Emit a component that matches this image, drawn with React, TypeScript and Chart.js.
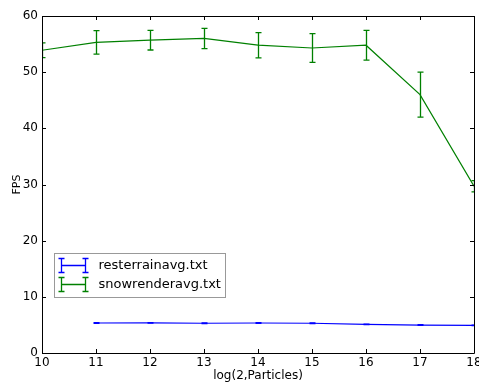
import { useEffect, useRef } from "react";
import { Chart, registerables } from "chart.js";

Chart.register(...registerables);

const particlesLog = [10, 11, 12, 13, 14, 15, 16, 17, 18];
const snowFps = [53.9, 55.3, 55.7, 56.0, 54.8, 54.3, 54.8, 46.0, 29.7];
const snowErr = [1.3, 2.1, 1.75, 1.8, 2.25, 2.55, 2.65, 4.0, 1.0];
const rainLog = [11, 12, 13, 14, 15, 16, 17, 18];
const rainFps = [5.34, 5.36, 5.3, 5.34, 5.3, 5.1, 4.98, 4.92];
const rainErr = [0.05, 0.05, 0.05, 0.05, 0.05, 0.05, 0.05, 0.05];
const xTicks = [10, 11, 12, 13, 14, 15, 16, 17, 18];
const yTicks = [0, 10, 20, 30, 40, 50, 60];
const seriesLabels = ["resterrainavg.txt", "snowrenderavg.txt"];
const FONT = "'DejaVu Sans', sans-serif";

const errorBarPlugin = {
  id: "errorBars",
  afterDatasetsDraw(chart: any) {
    const { ctx, chartArea } = chart;
    const xs = chart.scales.x;
    const ys = chart.scales.y;
    ctx.save();
    ctx.beginPath();
    ctx.rect(chartArea.left, chartArea.top, chartArea.right - chartArea.left, chartArea.bottom - chartArea.top);
    ctx.clip();
    chart.data.datasets.forEach((ds: any) => {
      if (!ds.errors) return;
      ctx.strokeStyle = ds.borderColor;
      ctx.lineWidth = 1.3;
      ds.data.forEach((p: any, i: number) => {
        const e = ds.errors[i];
        const px = Math.round(xs.getPixelForValue(p.x)) + 0.5;
        const y1 = ys.getPixelForValue(p.y + e);
        const y2 = ys.getPixelForValue(p.y - e);
        ctx.beginPath();
        ctx.moveTo(px, y1);
        ctx.lineTo(px, y2);
        ctx.moveTo(px - 3, y1);
        ctx.lineTo(px + 3, y1);
        ctx.moveTo(px - 3, y2);
        ctx.lineTo(px + 3, y2);
        ctx.stroke();
      });
    });
    ctx.restore();
  },
};

const framePlugin = {
  id: "frame",
  afterDraw(chart: any) {
    const { ctx, chartArea } = chart;
    const { left, right, top, bottom } = chartArea;
    const xs = chart.scales.x;
    const ys = chart.scales.y;
    ctx.save();
    ctx.strokeStyle = "#000";
    ctx.lineWidth = 1;
    ctx.beginPath();
    ctx.rect(Math.round(left) + 0.5, Math.round(top) + 0.5, Math.round(right - left), Math.round(bottom - top));
    ctx.stroke();
    ctx.beginPath();
    xTicks.forEach((v) => {
      const px = Math.round(xs.getPixelForValue(v)) + 0.5;
      ctx.moveTo(px, bottom);
      ctx.lineTo(px, bottom - 4);
      ctx.moveTo(px, top);
      ctx.lineTo(px, top + 4);
    });
    yTicks.forEach((v) => {
      const py = Math.round(ys.getPixelForValue(v)) + 0.5;
      ctx.moveTo(left, py);
      ctx.lineTo(left + 4, py);
      ctx.moveTo(right, py);
      ctx.lineTo(right - 4, py);
    });
    ctx.stroke();

    // legend
    const bx = Math.round(left) + 12.5;
    const by = Math.round(top) + 237.5;
    const bw = 171;
    const bh = 44;
    ctx.fillStyle = "#fff";
    ctx.fillRect(bx, by, bw, bh);
    ctx.strokeStyle = "#999";
    ctx.strokeRect(bx, by, bw, bh);
    chart.data.datasets.forEach((ds: any, i: number) => {
      const cy = Math.round(by + 11 + i * 19) + 0.5;
      const sx = bx + 7;
      const ex = bx + 31;
      ctx.strokeStyle = ds.borderColor;
      ctx.lineWidth = 1.3;
      ctx.beginPath();
      ctx.moveTo(sx, cy);
      ctx.lineTo(ex, cy);
      ctx.moveTo(sx, cy - 7);
      ctx.lineTo(sx, cy + 7);
      ctx.moveTo(ex, cy - 7);
      ctx.lineTo(ex, cy + 7);
      ctx.moveTo(sx - 3, cy - 7);
      ctx.lineTo(sx + 3, cy - 7);
      ctx.moveTo(sx - 3, cy + 7);
      ctx.lineTo(sx + 3, cy + 7);
      ctx.moveTo(ex - 3, cy - 7);
      ctx.lineTo(ex + 3, cy - 7);
      ctx.moveTo(ex - 3, cy + 7);
      ctx.lineTo(ex + 3, cy + 7);
      ctx.stroke();
      ctx.fillStyle = "#000";
      ctx.font = `13px ${FONT}`;
      ctx.textBaseline = "middle";
      ctx.textAlign = "left";
      ctx.fillText(ds.label, bx + 44, cy);
    });
    ctx.restore();
  },
};

export default function App() {
  const ref = useRef<HTMLCanvasElement | null>(null);
  useEffect(() => {
    if (!ref.current) return;
    Chart.defaults.font.family = FONT;
    Chart.defaults.color = "#000";
    const chart = new Chart(ref.current, {
      type: "line",
      data: {
        datasets: [
          {
            label: seriesLabels[0],
            data: rainLog.map((x, i) => ({ x, y: rainFps[i] })),
            errors: rainErr,
            borderColor: "#0000ff",
            backgroundColor: "#0000ff",
            borderWidth: 1.2,
            pointRadius: 0,
            tension: 0,
          } as any,
          {
            label: seriesLabels[1],
            data: particlesLog.map((x, i) => ({ x, y: snowFps[i] })),
            errors: snowErr,
            borderColor: "#008000",
            backgroundColor: "#008000",
            borderWidth: 1.2,
            pointRadius: 0,
            tension: 0,
          } as any,
        ],
      },
      options: {
        animation: false,
        responsive: false,
        maintainAspectRatio: false,
        layout: { padding: { top: 16, right: 5, left: 0, bottom: 0 } },
        plugins: { legend: { display: false }, tooltip: { enabled: false } },
        scales: {
          x: {
            type: "linear",
            min: 10,
            max: 18,
            grid: { display: false, drawTicks: false },
            border: { display: false },
            ticks: { stepSize: 1, padding: 3, font: { size: 12 }, autoSkip: false, maxRotation: 0 },
            title: { display: true, text: "log(2,Particles)", font: { size: 12 }, padding: { top: 0, bottom: -1 } },
            afterFit(scale: any) {
              scale.height = 29;
              scale.paddingLeft = 0;
              scale.paddingRight = 0;
            },
          },
          y: {
            min: 0,
            max: 60,
            grid: { display: false, drawTicks: false },
            border: { display: false },
            ticks: { stepSize: 10, padding: 4, font: { size: 12 } },
            title: { display: true, text: "FPS", font: { size: 11 }, padding: { top: 11, bottom: 0 } },
            afterFit(scale: any) {
              scale.width = 42;
              scale.paddingTop = 0;
              scale.paddingBottom = 0;
            },
          },
        },
      } as any,
      plugins: [errorBarPlugin, framePlugin],
    });
    return () => chart.destroy();
  }, []);
  return (
    <div style={{ position: "fixed", left: 0, top: 0, width: 479, height: 382, background: "#fff" }}>
      <canvas ref={ref} width={479} height={382} style={{ width: 479, height: 382 }} />
    </div>
  );
}
